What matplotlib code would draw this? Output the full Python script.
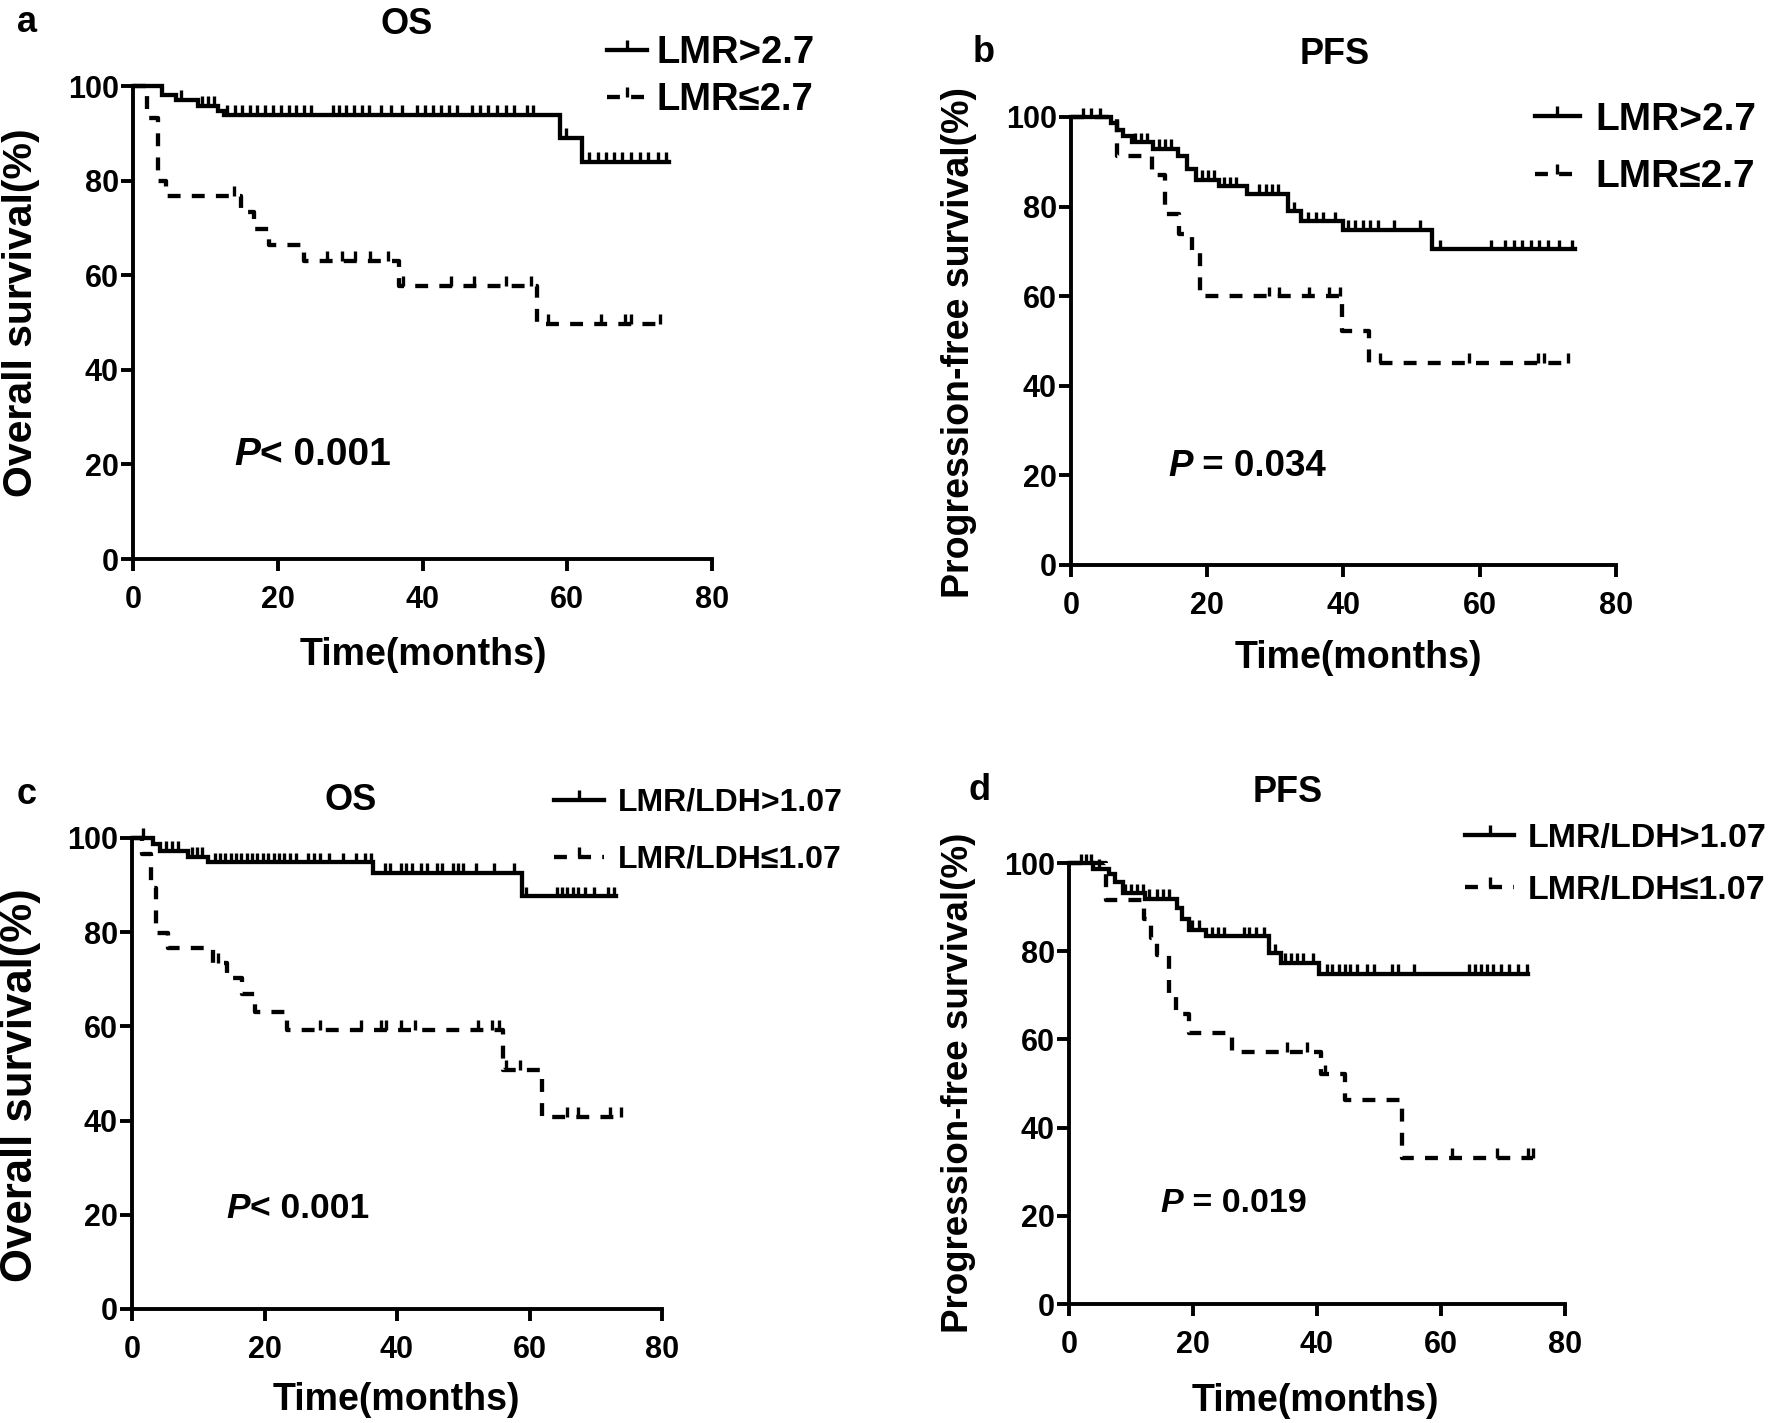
import numpy as np
import matplotlib
matplotlib.use('Agg')
import matplotlib.pyplot as plt
from matplotlib.lines import Line2D

# ---------------- data ----------------
# Panel a: OS by LMR
a_hi_t = [0, 4, 6, 9, 11.7, 12.6, 59, 62]
a_hi_s = [100, 98.2, 97.0, 95.8, 94.8, 93.8, 89.0, 84.0]
a_hi_end = 74
a_hi_cens = [6.7, 9.6, 10.4, 11.2, 13.0, 14.1, 15.1, 16.2, 17.2, 18.3, 19.3, 20.4, 21.5, 22.5,
             23.6, 24.6, 27.6, 28.5, 29.4, 30.5, 31.6, 32.6, 34.2, 35.6, 37.1, 39.2, 40.3, 41.4,
             42.5, 43.6, 44.7, 46.9, 48.0, 49.0, 50.3, 51.5, 52.7, 54.5, 55.2, 59.8, 63.0, 64.2,
             65.3, 66.5, 67.6, 68.8, 70.0, 71.2, 72.5, 73.7]
a_lo_t = [0, 2, 3.5, 4.6, 14.9, 16.7, 18.8, 23.6, 36.8, 55.8]
a_lo_s = [100, 93.3, 80.0, 76.7, 73.3, 69.8, 66.4, 63.0, 57.7, 49.6]
a_lo_end = 73
a_lo_cens = [14.0, 26.8, 28.9, 30.7, 32.8, 35.2, 37.3, 43.9, 47.1, 51.6, 55.0, 57.4, 64.6, 68.0,
             68.8, 72.8]

# Panel b: PFS by LMR
b_hi_t = [0, 5.8, 6.8, 7.6, 8.9, 12.0, 15.7, 17.0, 18.4, 21.7, 25.8, 31.9, 33.8, 40.0, 53.0]
b_hi_s = [100, 98.6, 97.2, 95.8, 94.4, 92.9, 91.4, 88.4, 86.0, 84.5, 82.9, 79.0, 76.8, 74.8, 70.5]
b_hi_end = 74
b_hi_cens = [1.7, 2.9, 4.2, 9.4, 10.3, 11.2, 12.9, 13.8, 14.7, 19.2, 20.1, 21.0, 22.4, 23.3, 24.2,
             27.6, 28.6, 29.5, 30.4, 32.7, 34.8, 35.9, 37.0, 38.7, 40.6, 41.7, 42.8, 43.9, 45.0,
             47.4, 51.3, 54.2, 61.7, 63.7, 65.0, 66.2, 67.5, 68.7, 70.0, 71.7, 73.5]
b_lo_t = [0, 6.7, 11.9, 13.8, 15.8, 17.7, 18.9, 39.8, 43.8]
b_lo_s = [100, 91.3, 87.0, 78.3, 73.9, 69.6, 60.0, 52.3, 45.2]
b_lo_end = 73
b_lo_cens = [29.1, 30.6, 34.9, 37.8, 39.5, 45.4, 58.4, 68.6, 69.5, 72.9]

# Panel c: OS by LMR/LDH
c_hi_t = [0, 3.2, 4.3, 8.5, 11.4, 36.4, 58.8]
c_hi_s = [100, 98.7, 97.3, 96.0, 94.8, 92.6, 87.6]
c_hi_end = 73
c_hi_cens = [1.7, 5.2, 6.0, 6.9, 9.0, 9.8, 10.6, 12.5, 13.3, 14.1, 14.9, 15.7, 16.5, 17.3, 18.1,
             18.9, 19.7, 20.6, 21.4, 22.2, 23.0, 23.9, 24.7, 26.6, 27.5, 28.4, 29.8, 31.9, 33.8,
             35.2, 36.0, 38.2, 39.0, 40.6, 41.4, 42.2, 43.6, 44.6, 46.0, 46.8, 48.4, 49.2, 50.0,
             51.9, 54.6, 57.6, 59.5, 64.1, 64.9, 65.7, 66.5, 67.3, 68.4, 69.7, 71.9, 72.7]
c_lo_t = [0, 1.5, 2.8, 3.6, 5.5, 12.2, 14.4, 16.6, 18.5, 23.4, 56.0, 61.9]
c_lo_s = [100, 96.6, 89.3, 79.8, 76.7, 73.5, 70.2, 66.8, 63.0, 59.2, 50.8, 40.7]
c_lo_end = 74
c_lo_cens = [13.0, 28.4, 34.6, 37.6, 38.3, 40.6, 42.7, 52.2, 54.3, 55.4, 56.5, 58.5, 65.7, 67.3,
             72.2, 73.8]

# Panel d: PFS by LMR/LDH
d_hi_t = [0, 3.8, 6.4, 7.5, 8.7, 12.2, 17.5, 18.3, 19.3, 22.1, 32.3, 34.2, 40.3]
d_hi_s = [100, 98.7, 97.4, 95.8, 93.2, 91.9, 89.8, 87.2, 84.9, 83.4, 79.6, 77.4, 74.9]
d_hi_end = 74.1
d_hi_cens = [1.9, 2.8, 3.6, 4.9, 9.1, 10.0, 11.0, 11.9, 12.9, 14.2, 15.1, 16.1, 19.9, 20.9, 23.1,
             24.0, 25.0, 28.2, 29.1, 30.1, 31.4, 33.3, 34.9, 35.8, 36.8, 37.8, 39.3, 41.6, 42.5,
             43.5, 44.5, 45.4, 46.4, 48.0, 49.2, 52.1, 53.1, 55.6, 64.5, 65.5, 66.5, 67.4, 68.4,
             69.6, 70.9, 72.5, 73.8]
d_lo_t = [0, 5.9, 12.1, 13.2, 14.2, 16.1, 17.3, 19.3, 26.3, 40.6, 44.5, 53.7]
d_lo_s = [100, 91.7, 87.2, 83.0, 79.2, 70.2, 65.8, 61.5, 57.2, 52.1, 46.2, 33.2]
d_lo_end = 74.9
d_lo_cens = [35.1, 38.4, 41.3, 61.7, 69.0, 74.1, 74.9]

x_ticks = [0, 20, 40, 60, 80]
y_ticks = [0, 20, 40, 60, 80, 100]
labels_lmr = ['LMR>2.7', 'LMR≤2.7']
labels_ratio = ['LMR/LDH>1.07', 'LMR/LDH≤1.07']
titles = ['OS', 'PFS', 'OS', 'PFS']
panel_letters = ['a', 'b', 'c', 'd']
ylabels = ['Overall survival(%)', 'Progression-free survival(%)',
           'Overall survival(%)', 'Progression-free survival(%)']
xlabel = 'Time(months)'
p_rest = ['< 0.001', ' = 0.034', '< 0.001', ' = 0.019']

# ---------------- styling ----------------
W, H = 1774, 1423
DPI = 100
plt.rcParams['font.family'] = ['Liberation Sans', 'DejaVu Sans']
plt.rcParams['font.weight'] = 'bold'
fig = plt.figure(figsize=(W / DPI, H / DPI), dpi=DPI)

LW = 3.1
SPW = 2.8
TLW = 2.4
TICKH = 2.1
DASH = (0, (3.0, 2.6))
TICKM = [(0, 0), (0, 1)]


def fx(x):
    return x / W


def fy(y):
    return 1 - y / H


def km(ax, t, s, end, cens, dashed):
    tt = list(t) + [end]
    ss = list(s) + [s[-1]]
    ls = DASH if dashed else '-'
    ax.step(tt, ss, where='post', color='k', lw=LW, linestyle=ls,
            solid_joinstyle='miter', dash_capstyle='butt', clip_on=False)
    idx = np.searchsorted(np.asarray(t), np.asarray(cens), side='right') - 1
    lev = np.asarray(s)[idx]
    ax.vlines(cens, lev, lev + TICKH, color='k', lw=TLW, clip_on=False)


panels = [
    dict(box=(133, 86, 712, 559), hi=(a_hi_t, a_hi_s, a_hi_end, a_hi_cens),
         lo=(a_lo_t, a_lo_s, a_lo_end, a_lo_cens), labels=labels_lmr,
         title=(407, 24), letter=(27, 22), leg=(607, 53, 47, 27.5, 1.05, 0.25),
         ptxt=(234, 455), pfs=28, xl=(423, 655), yl=(21, 313), yfs=29.5, xfs=27, tfs=26),
    dict(box=(1071, 117, 1616, 565), hi=(b_hi_t, b_hi_s, b_hi_end, b_hi_cens),
         lo=(b_lo_t, b_lo_s, b_lo_end, b_lo_cens), labels=labels_lmr,
         title=(1335, 54), letter=(984, 52), leg=(1535, 120, 58, 28, 1.15, 0.4),
         ptxt=(1168, 466), pfs=26.5, xl=(1358, 658), yl=(959, 342), yfs=27, xfs=27, tfs=26),
    dict(box=(132, 838, 662, 1309), hi=(c_hi_t, c_hi_s, c_hi_end, c_hi_cens),
         lo=(c_lo_t, c_lo_s, c_lo_end, c_lo_cens), labels=labels_ratio,
         title=(351, 800), letter=(27, 795), leg=(554, 803, 57, 23, 1.55, 0.45),
         ptxt=(226, 1208), pfs=25.5, xl=(396, 1400), yl=(21, 1085), yfs=31.5, xfs=27, tfs=26),
    dict(box=(1069, 863, 1565, 1304), hi=(d_hi_t, d_hi_s, d_hi_end, d_hi_cens),
         lo=(d_lo_t, d_lo_s, d_lo_end, d_lo_cens), labels=labels_ratio,
         title=(1288, 793), letter=(980, 791), leg=(1465, 839, 53, 24.5, 1.45, 0.38),
         ptxt=(1160, 1203), pfs=24.5, xl=(1315, 1401), yl=(959, 1083), yfs=26.5, xfs=27, tfs=26),
]

for i, p in enumerate(panels):
    l, t, r, b = p['box']
    ax = fig.add_axes([fx(l), fy(b), (r - l) / W, (b - t) / H])
    km(ax, *p['hi'], dashed=False)
    km(ax, *p['lo'], dashed=True)
    ax.set_xlim(0, 80)
    ax.set_ylim(0, 100)
    ax.set_xticks(x_ticks)
    ax.set_yticks(y_ticks)
    for sp in ['top', 'right']:
        ax.spines[sp].set_visible(False)
    for sp in ['left', 'bottom']:
        ax.spines[sp].set_linewidth(SPW)
    ax.tick_params(direction='out', length=8.6, width=SPW, labelsize=22)
    ax.tick_params(axis='x', pad=10)
    ax.tick_params(axis='y', pad=1.5)
    for lab in ax.get_xticklabels() + ax.get_yticklabels():
        lab.set_fontweight('bold')

    fig.text(fx(p['title'][0]), fy(p['title'][1]), titles[i], ha='center', va='center',
             fontsize=p['tfs'], weight='bold')
    fig.text(fx(p['letter'][0]), fy(p['letter'][1]), panel_letters[i], ha='center',
             va='center', fontsize=26, weight='bold')
    fig.text(fx(p['xl'][0]), fy(p['xl'][1]), xlabel, ha='center', va='center',
             fontsize=p['xfs'], weight='bold')
    fig.text(fx(p['yl'][0]), fy(p['yl'][1]), ylabels[i], ha='center', va='center',
             rotation=90, fontsize=p['yfs'], weight='bold')

    pt = fig.text(fx(p['ptxt'][0]), fy(p['ptxt'][1]), 'P', ha='left', va='center',
                  fontsize=p['pfs'], weight='bold', style='italic')
    ax.annotate(p_rest[i], xy=(1, 0), xycoords=pt, ha='left', va='bottom',
                fontsize=p['pfs'], weight='bold', annotation_clip=False)

    lx, ly, rowgap, lfs, hl, htp = p['leg']
    fs_px = lfs * DPI / 72
    handles = [
        Line2D([], [], color='k', lw=LW, ls='-', marker=TICKM, markersize=15,
               markeredgewidth=TLW, markeredgecolor='k'),
        Line2D([], [], color='k', lw=LW, ls=DASH, marker=TICKM, markersize=15,
               markeredgewidth=TLW, markeredgecolor='k'),
    ]
    text_h = 0.94 * fs_px
    lsp = max((rowgap - text_h) / fs_px, 0.0)
    fig.legend(handles, p['labels'], loc='upper left',
               bbox_to_anchor=(fx(lx), fy(ly - text_h / 2)), frameon=False,
               prop=dict(weight='bold', size=lfs), handlelength=hl, handletextpad=htp,
               labelspacing=lsp, borderpad=0, borderaxespad=0, numpoints=1)

fig.savefig('out.png', dpi=DPI)
